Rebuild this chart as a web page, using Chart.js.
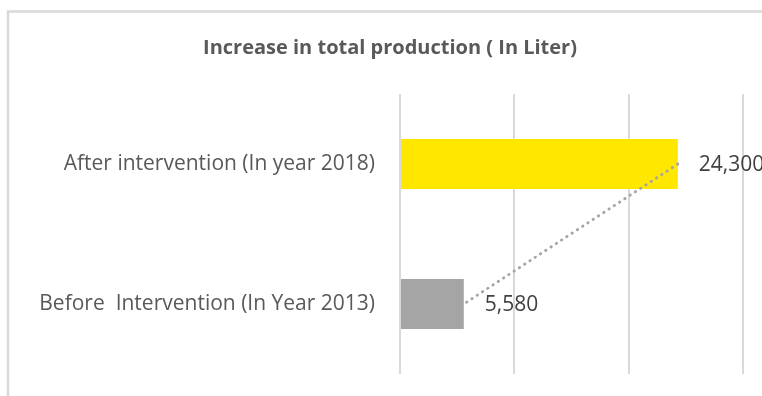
<!DOCTYPE html>
<html>
<head>
<meta charset="utf-8">
<script src="https://cdn.jsdelivr.net/npm/chart.js@4/dist/chart.umd.min.js"></script>
<style>
  html, body { margin: 0; padding: 0; overflow: hidden; background: #fff; }
  #wrap { width: 780px; height: 396px; }
</style>
</head>
<body>
<div id="wrap"><canvas id="prodChart" width="780" height="396"></canvas></div>
<script>
// Chart data
const categories = ['After intervention (In year 2018)', 'Before  Intervention (In Year 2013)'];
const production = [24300, 5580];
const barColors = ['#FFE700', '#A5A5A5'];
const chartTitle = 'Increase in total production ( In Liter)';

// Outer frame like the Excel chart border (cropped at right/bottom)
const framePlugin = {
    id: 'frame',
    beforeDraw(chart) {
        const ctx = chart.ctx;
        ctx.save();
        ctx.strokeStyle = '#d9d9d9';
        ctx.lineWidth = 2.5;
        ctx.beginPath();
        ctx.moveTo(8, 400);
        ctx.lineTo(8, 11.5);
        ctx.lineTo(chart.width + 5, 11.5);
        ctx.stroke();
        ctx.restore();
    }
};

// Value labels at the end of each bar
const valueLabels = {
    id: 'valueLabels',
    afterDatasetsDraw(chart) {
        const ctx = chart.ctx;
        const meta = chart.getDatasetMeta(0);
        ctx.save();
        ctx.font = '21px "Open Sans"';
        ctx.fillStyle = '#404040';
        ctx.textAlign = 'left';
        ctx.textBaseline = 'middle';
        meta.data.forEach((bar, i) => {
            ctx.fillText(production[i].toLocaleString('en-US'), bar.x + 21, bar.y + 1);
        });
        ctx.restore();
    }
};

new Chart(document.getElementById('prodChart'), {
    type: 'bar',
    data: {
        labels: categories,
        datasets: [
            {
                type: 'line',
                data: production,
                borderColor: '#A5A5A5',
                borderWidth: 2.8,
                borderDash: [0.5, 5.8],
                borderCapStyle: 'round',
                pointRadius: 0,
                fill: false,
                order: 0
            },
            {
                data: production,
                backgroundColor: barColors,
                barPercentage: 1,
                categoryPercentage: 0.357,
                order: 1
            }
        ]
    },
    options: {
        indexAxis: 'y',
        responsive: false,
        animation: false,
        layout: { padding: { left: 37, right: 37, top: 0, bottom: 22 } },
        plugins: {
            legend: { display: false },
            tooltip: { enabled: false },
            title: {
                display: true,
                text: chartTitle,
                color: '#595959',
                font: { family: 'Open Sans', size: 20, weight: 'bold' },
                padding: { top: 36, bottom: 34 }
            }
        },
        scales: {
            x: {
                min: 0,
                max: 30000,
                ticks: { display: false, stepSize: 10000 },
                grid: { color: '#d9d9d9', lineWidth: 2, drawTicks: false },
                border: { display: false },
                afterFit(scale) { scale.height = 0; }
            },
            y: {
                ticks: {
                    color: '#595959',
                    font: { family: 'Open Sans', size: 21 },
                    padding: 0
                },
                // invisible tick marks give the gap between labels and bars
                grid: { color: 'rgba(0,0,0,0)', drawTicks: true, tickLength: 25 },
                border: { display: false },
                afterFit(scale) { scale.width = 363; }
            }
        }
    },
    plugins: [framePlugin, valueLabels]
});
</script>
</body>
</html>
